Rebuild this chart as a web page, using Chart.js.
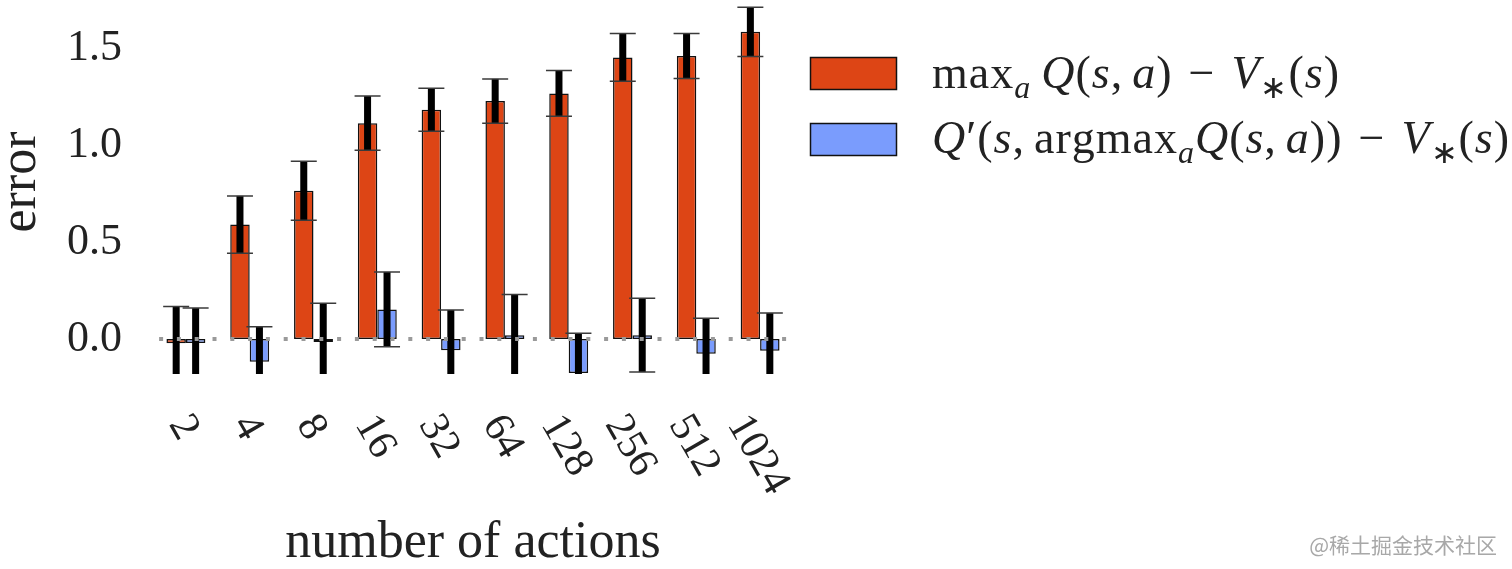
<!DOCTYPE html>
<html><head><meta charset="utf-8">
<script src="https://cdn.jsdelivr.net/npm/chart.js@4.4.0/dist/chart.umd.min.js"></script>
<style>html,body{margin:0;padding:0;background:#fff;overflow:hidden}canvas{display:block}</style>
</head><body>
<canvas id="c" width="1512" height="569"></canvas>
<script>
// ---- data ----
const categories = ['2','4','8','16','32','64','128','256','512','1024'];
const maxQError = [-0.022, 0.59, 0.765, 1.113, 1.182, 1.227, 1.266, 1.452, 1.459, 1.584];
const maxQStd = [0.19, 0.148, 0.152, 0.14, 0.111, 0.114, 0.118, 0.123, 0.116, 0.127];
const doubleQError = [-0.02, -0.117, -0.015, 0.153, -0.057, 0.02, -0.175, 0.02, -0.075, -0.06];
const doubleQStd = [0.18, 0.18, 0.2, 0.193, 0.207, 0.21, 0.205, 0.19, 0.183, 0.194];
const yTicks = [0, 0.5, 1.0, 1.5];
const yTickLabels = ['0.0', '0.5', '1.0', '1.5'];
const yRange = [-0.18, 1.72];
const xTitle = 'number of actions';
const yTitle = 'error';
const watermark = '@稀土掘金技术社区';

const SERIF = '"Liberation Serif", "Times New Roman", serif';
const RED = '#dd4515';
const BLUE = '#7a9cfd';

// legend line pieces: [text, style]
const legend1 = [['max','r'],['a','isub'],['','gap10'],['Q','i'],['(','r'],['s','i'],[',','r'],['','gap9'],['a','i'],[')','r'],['','gap16'],['−','r'],['','gap16'],['V','i'],['∗','sub'],['(','r'],['s','i'],[')','r']];
const legend2 = [['Q','i'],['′','r'],['(','r'],['s','i'],[',','r'],['','gap9'],['argmax','r'],['a','isub'],['Q','i'],['(','r'],['s','i'],[',','r'],['','gap9'],['a','i'],['))','r'],['','gap16'],['−','r'],['','gap16'],['V','i'],['∗','sub'],['(','r'],['s','i'],[')','r']];

function drawMath(ctx, pieces, x, baseline, size) {
  let cx = x;
  const small = Math.round(size * 0.7);
  for (const [t, st] of pieces) {
    if (st.startsWith('gap')) { cx += parseFloat(st.slice(3)); continue; }
    let font, dy = 0;
    if (st === 'r') font = `${size}px ${SERIF}`;
    else if (st === 'i') font = `italic ${size}px ${SERIF}`;
    else if (st === 'isub') { font = `italic ${small}px ${SERIF}`; dy = Math.round(size * 0.22); }
    else if (st === 'sub') { font = `${small}px ${SERIF}`; dy = Math.round(size * 0.22); }
    ctx.font = font;
    for (const ch of t) {
      ctx.fillText(ch, cx, baseline + dy);
      cx += ctx.measureText(ch).width + 1;
    }
  }
  return cx;
}

const overlay = {
  id: 'overlay',
  afterDatasetsDraw(chart) {
    const {ctx, chartArea: ca, scales: {x, y}} = chart;
    ctx.save();
    ctx.beginPath();
    ctx.rect(ca.left, ca.top, ca.right - ca.left, ca.bottom - ca.top);
    ctx.clip();
    chart.data.datasets.forEach((ds, di) => {
      const meta = chart.getDatasetMeta(di);
      meta.data.forEach((bar, i) => {
        const v = ds.data[i], s = ds.errors[i];
        const cx = bar.x;
        const yt = y.getPixelForValue(v + s), yb = y.getPixelForValue(v - s);
        ctx.fillStyle = '#000';
        ctx.fillRect(cx - 3.5, yt, 7, yb - yt);
        ctx.strokeStyle = '#3a3a3a';
        ctx.lineWidth = 1.5;
        [yt, yb].forEach(py => {
          ctx.beginPath(); ctx.moveTo(cx - 13, py); ctx.lineTo(cx + 13, py); ctx.stroke();
        });
      });
    });
    ctx.restore();
    // dotted zero line
    const sp = x.getPixelForValue(1) - x.getPixelForValue(0);
    const x0 = x.getPixelForValue(0) - 0.42 * sp;
    const x1 = x.getPixelForValue(categories.length - 1) + 0.41 * sp;
    const y0 = y.getPixelForValue(0);
    ctx.save();
    ctx.strokeStyle = '#9a9a9a';
    ctx.lineWidth = 4;
    ctx.setLineDash([4, 13.8]);
    ctx.beginPath(); ctx.moveTo(x0, y0); ctx.lineTo(x1, y0); ctx.stroke();
    ctx.restore();
  },
  afterDraw(chart) {
    const {ctx, chartArea: ca, scales: {x, y}} = chart;
    ctx.save();
    ctx.fillStyle = '#222';
    // y tick labels
    ctx.font = `44px ${SERIF}`;
    ctx.textAlign = 'right';
    ctx.textBaseline = 'alphabetic';
    yTicks.forEach((v, i) => {
      ctx.fillText(yTickLabels[i], 122, y.getPixelForValue(v) + 12);
    });
    // x tick labels rotated clockwise 60deg
    const th = Math.PI / 3;
    ctx.font = `42px ${SERIF}`;
    categories.forEach((lab, i) => {
      const m = ctx.measureText(lab);
      const w = m.width;
      const h = m.actualBoundingBoxAscent + m.actualBoundingBoxDescent;
      const bh = w * Math.sin(th) + h * Math.cos(th);
      const cx = x.getPixelForValue(i);
      const cy = ca.bottom + 36 + bh / 2;
      ctx.save();
      ctx.translate(cx, cy);
      ctx.rotate(th);
      ctx.textAlign = 'center';
      ctx.textBaseline = 'alphabetic';
      ctx.fillText(lab, 0, (m.actualBoundingBoxAscent - m.actualBoundingBoxDescent) / 2);
      ctx.restore();
    });
    // axis titles
    ctx.font = `52px ${SERIF}`;
    ctx.textAlign = 'center';
    ctx.fillText(xTitle, 473, 557);
    ctx.save();
    ctx.translate(35, 182);
    ctx.rotate(-Math.PI / 2);
    ctx.fillText(yTitle, 0, 0);
    ctx.restore();
    // legend
    ctx.textAlign = 'left';
    chart.data.datasets.forEach((ds, di) => {
      const top = di === 0 ? 57 : 123;
      ctx.fillStyle = ds.backgroundColor;
      ctx.fillRect(810, top, 87, 33);
      ctx.strokeStyle = '#111';
      ctx.lineWidth = 1.5;
      ctx.strokeRect(810.5, top + 0.5, 86, 32);
    });
    ctx.fillStyle = '#222';
    drawMath(ctx, legend1, 932, 88, 46);
    drawMath(ctx, legend2, 932, 153, 46);
    // watermark
    ctx.font = `21px "Noto Sans CJK SC", sans-serif`;
    ctx.fillStyle = '#a8a8a8';
    ctx.textAlign = 'right';
    ctx.fillText(watermark, 1497, 553);
    ctx.restore();
  }
};

new Chart(document.getElementById('c'), {
  type: 'bar',
  data: {
    labels: categories,
    datasets: [
      { label: 'maxQ', data: maxQError, errors: maxQStd, backgroundColor: RED, borderColor: '#111', borderWidth: 1.5, borderSkipped: false },
      { label: 'doubleQ', data: doubleQError, errors: doubleQStd, backgroundColor: BLUE, borderColor: '#111', borderWidth: 1.5, borderSkipped: false }
    ]
  },
  options: {
    responsive: false,
    animation: false,
    devicePixelRatio: 1,
    layout: { padding: { left: 154, right: 720, top: 5.4, bottom: 195 } },
    plugins: { legend: { display: false }, tooltip: { enabled: false } },
    datasets: { bar: { categoryPercentage: 0.61, barPercentage: 1.0 } },
    scales: {
      x: { display: false, offset: true },
      y: { display: false, min: yRange[0], max: yRange[1] }
    }
  },
  plugins: [overlay]
});
</script>
</body></html>
